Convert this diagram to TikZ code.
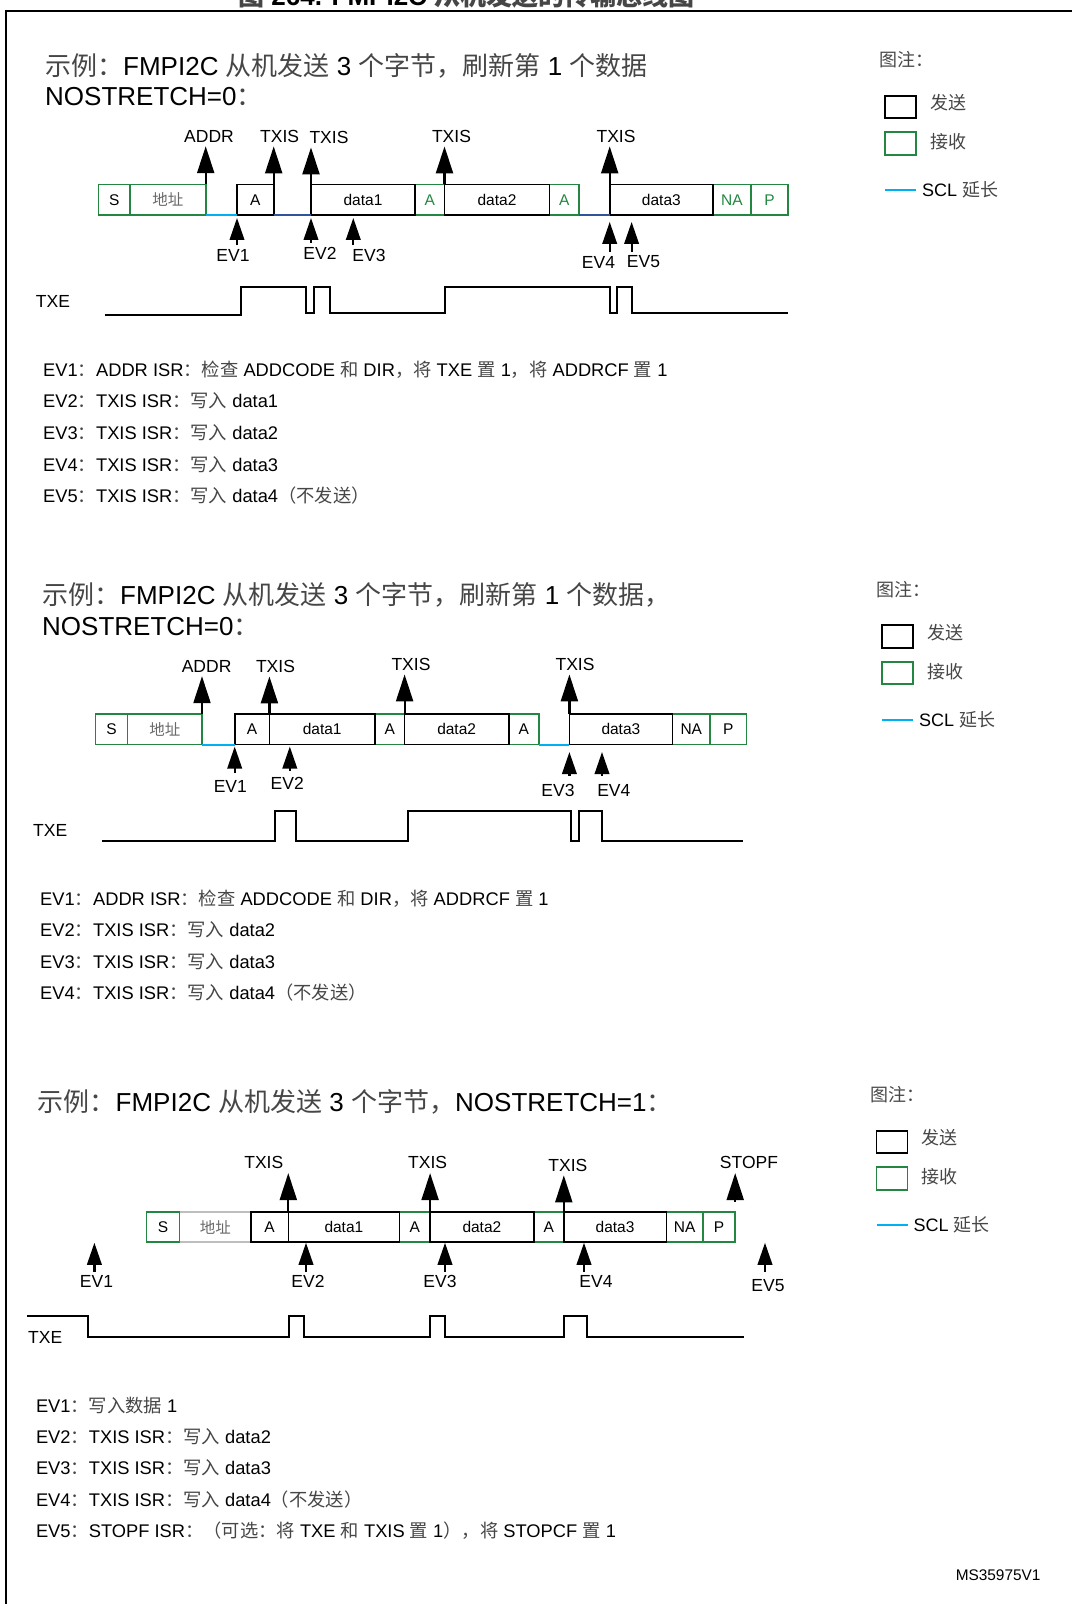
\documentclass[tikz,border=0pt]{standalone}
\usepackage{fontspec}
\setmainfont{Liberation Sans}
\newfontfamily\cjk{Noto Sans CJK SC}
\usepackage{tikz}
\usetikzlibrary{arrows.meta}
\definecolor{rxgreen}{RGB}{35,135,65}
\definecolor{sclcyan}{RGB}{0,176,240}
\definecolor{sclblue}{RGB}{47,84,158}
\definecolor{adrgray}{RGB}{105,105,105}
\definecolor{adrline}{RGB}{190,190,190}
\definecolor{zhgray}{RGB}{70,70,70}
\newcommand{\zh}[1]{{\cjk\color{zhgray}#1}}

\begin{document}
\begin{tikzpicture}[x=1pt, y=-1pt,
		box/.style={line width=1.6pt, minimum height=30.5pt, inner sep=0pt, outer sep=0pt, font=\fontsize{15.5}{18}\selectfont},
		txbox/.style={box, draw=black},
		rxbox/.style={box, draw=rxgreen},
		lbl/.style={inner sep=0pt, font=\fontsize{17.5}{20}\selectfont},
		flag/.style={line width=2.2pt, -{Triangle[length=27pt, width=17pt]}, shorten >=4pt},
		evarrow/.style={line width=2.2pt, -{Triangle[length=22pt, width=14.5pt]}, shorten >=3pt, shorten <=4.5pt},
		wave/.style={line width=2pt},
		scl/.style={draw=sclcyan, line width=2pt},
		heading/.style={anchor=west, inner sep=0pt, font=\fontsize{26}{30}\selectfont},
		desc/.style={anchor=west, inner sep=0pt, font=\fontsize{18.3}{21}\selectfont},
		legend/.style={anchor=west, inner sep=0pt, font=\fontsize{18}{21}\selectfont},
		keybox/.style={line width=1.6pt, minimum width=31pt, minimum height=22.5pt, inner sep=0pt, outer sep=0pt}]
		
		\useasboundingbox (0,0) rectangle (1072,1604);
		
		% 图题（上边被裁掉）
		\begin{scope}
			\clip (0,0) rectangle (1072,10);
			\node[anchor=base west, inner sep=0pt, font=\bfseries\fontsize{26}{30}\selectfont] (figttl) at (238,5.5) {\zh{图} 264. FMPI2C \zh{从机发送的传输总线图}};
		\end{scope}
		\draw[line width=2.5pt] (6,1604) -- (6,11) -- (1072,11); % 边框
		
		% ===== 示例 1 =====
		\node[heading] (s1h1) at (45,66) {\zh{示例：}FMPI2C \zh{从机发送} 3 \zh{个字节，刷新第} 1 \zh{个数据}};
		\node[heading] (s1h2) at (45,97) {NOSTRETCH=0\zh{：}};
		
		% 图注
		\node[legend] (lg1) at (879,60) {\zh{图注：}};
		\node[keybox, draw=black] (lg1tx) at (900.5,107) {};
		\node[legend] (lg1txt) at (930,103) {\zh{发送}};
		\node[keybox, draw=rxgreen] (lg1rx) at (900.5,143.5) {};
		\node[legend] (lg1rxt) at (930,142) {\zh{接收}};
		\node[legend] (lg1scl) at (922,190) {SCL \zh{延长}};
		\draw[scl] (lg1rx.west |- lg1scl) -- (lg1rx.east |- lg1scl);
		
		% 帧
		\node[rxbox, minimum width=31.5pt] (s1s) at (114.25,199.7) {S};
		\node[rxbox, minimum width=75.7pt, text=adrgray] (s1adr) at (167.85,199.7) {{\cjk 地址}};
		\node[rxbox, minimum width=29.5pt, text=rxgreen] (s1k1) at (429.75,199.7) {A};
		\node[rxbox, minimum width=29.5pt, text=rxgreen] (s1k2) at (564.25,199.7) {A};
		\node[rxbox, minimum width=38pt, text=rxgreen] (s1na) at (732,199.7) {NA};
		\node[rxbox, minimum width=37pt, text=rxgreen] (s1p) at (769.5,199.7) {P};
		\node[txbox, minimum width=36.7pt] (s1a1) at (255.35,199.7) {A};
		\node[txbox, minimum width=104pt] (s1d1) at (363,199.7) {data1};
		\node[txbox, minimum width=105pt] (s1d2) at (497,199.7) {data2};
		\node[txbox, minimum width=103.3pt] (s1d3) at (661.35,199.7) {data3};
		
		\draw[scl] (s1adr.south east) -- (s1a1.south west);
		\draw[scl, draw=sclblue] (s1a1.south east) -- (s1d1.south west);
		\draw[scl, draw=sclblue] (s1k2.south east) -- (s1d3.south west);
		
		% 标志
		\node[lbl] (s1addr) at (209,136) {ADDR};
		\node[lbl] (s1txis1) at (279.6,136) {TXIS};
		\node[lbl] (s1txis2) at (329,137) {TXIS};
		\node[lbl] (s1txis3) at (451.5,136) {TXIS};
		\node[lbl] (s1txis4) at (616,136) {TXIS};
		\draw[flag] (s1adr.north east) -- (s1adr.north east |- s1addr.south);
		\draw[flag] (s1a1.north east) -- (s1a1.north east |- s1txis1.south);
		\draw[flag] (s1d1.north west) -- (s1d1.north west |- s1txis2.south);
		\draw[flag] (s1d2.north west) -- (s1d2.north west |- s1txis3.south);
		\draw[flag] (s1d3.north west) -- (s1d3.north west |- s1txis4.south);
		
		% 事件
		\coordinate (s1x3) at (353.3,214.95);
		\coordinate (s1x5) at (631.6,214.95);
		\node[lbl] (s1ev1) at (233,255.7) {EV1};
		\node[lbl] (s1ev2) at (320,253.7) {EV2};
		\node[lbl] (s1ev3) at (369,255.7) {EV3};
		\node[lbl] (s1ev4) at (598.5,262) {EV4};
		\node[lbl] (s1ev5) at (643.5,262) {EV5};
		\draw[evarrow] (s1ev1.north -| s1a1.south west) -- (s1a1.south west);
		\draw[evarrow] (s1ev2.north -| s1d1.south west) -- (s1d1.south west);
		\draw[evarrow] (s1ev3.north -| s1x3) -- (s1x3);
		\draw[evarrow, shorten >=7pt, shorten <=4pt] (s1ev4.north -| s1d3.south west) -- (s1d3.south west);
		\draw[evarrow, shorten >=7pt, shorten <=4pt] (s1ev5.north -| s1x5) -- (s1x5);
		
		% TXE
		\node[lbl, anchor=west] (s1txe) at (35.7,301.7) {TXE};
		\draw[wave] (104.6,315) -- (241.3,315) -- (241.3,287.3) -- (306,287.3) -- (306,313.3) -- (313.8,313.3) -- (313.8,287.3) -- (330,287.3) -- (330,313.3) -- (445,313.3) -- (445,287.3) -- (609.7,287.3) -- (609.7,313.3) -- (617.3,313.3) -- (617.3,287.3) -- (631.6,287.3) -- (631.6,312.5) -- (788,312.5);
		
		\node[desc] (s1t1) at (43,369.3) {EV1\zh{：}ADDR ISR\zh{：检查} ADDCODE \zh{和} DIR\zh{，将} TXE \zh{置} 1\zh{，将} ADDRCF \zh{置} 1};
		\node[desc] (s1t2) at (43,401) {EV2\zh{：}TXIS ISR\zh{：写入} data1};
		\node[desc] (s1t3) at (43,432.7) {EV3\zh{：}TXIS ISR\zh{：写入} data2};
		\node[desc] (s1t4) at (43,464.4) {EV4\zh{：}TXIS ISR\zh{：写入} data3};
		\node[desc] (s1t5) at (43,495.1) {EV5\zh{：}TXIS ISR\zh{：写入} data4\zh{（不发送）}};
		
		% ===== 示例 2 =====
		\node[heading] (s2h1) at (42,595) {\zh{示例：}FMPI2C \zh{从机发送} 3 \zh{个字节，刷新第} 1 \zh{个数据，}};
		\node[heading] (s2h2) at (42,627) {NOSTRETCH=0\zh{：}};
		
		\node[legend] (lg2) at (876,589.5) {\zh{图注：}};
		\node[keybox, draw=black] (lg2tx) at (897.5,636.5) {};
		\node[legend] (lg2txt) at (927,632.5) {\zh{发送}};
		\node[keybox, draw=rxgreen] (lg2rx) at (897.5,673) {};
		\node[legend] (lg2rxt) at (927,671.5) {\zh{接收}};
		\node[legend] (lg2scl) at (919,719.5) {SCL \zh{延长}};
		\draw[scl] (lg2rx.west |- lg2scl) -- (lg2rx.east |- lg2scl);
		
		\node[rxbox, minimum width=32.2pt] (s2s) at (111.5,729.3) {S};
		\node[rxbox, minimum width=74.4pt, text=adrgray] (s2adr) at (164.8,729.3) {{\cjk 地址}};
		\node[rxbox, minimum width=29.6pt] (s2k1) at (389.8,729.3) {A};
		\node[rxbox, minimum width=30.1pt] (s2k2) at (523.75,729.3) {A};
		\node[rxbox, minimum width=37.8pt] (s2na) at (691.3,729.3) {NA};
		\node[rxbox, minimum width=36.2pt] (s2p) at (728.3,729.3) {P};
		\node[txbox, minimum width=34.7pt] (s2a1) at (252.05,729.3) {A};
		\node[txbox, minimum width=105.6pt] (s2d1) at (322.2,729.3) {data1};
		\node[txbox, minimum width=104.1pt] (s2d2) at (456.65,729.3) {data2};
		\node[txbox, minimum width=103pt] (s2d3) at (620.9,729.3) {data3};
		
		\draw[scl] (s2adr.south east) -- (s2a1.south west);
		\draw[scl] (s2k2.south east) -- (s2d3.south west);
		
		\node[lbl] (s2addr) at (206.6,666) {ADDR};
		\node[lbl] (s2txis1) at (275.5,666) {TXIS};
		\node[lbl] (s2txis2) at (411,664) {TXIS};
		\node[lbl] (s2txis3) at (575,664) {TXIS};
		\draw[flag] (s2adr.north east) -- (s2adr.north east |- s2addr.south);
		\draw[flag] (s2d1.north west) -- (s2d1.north west |- s2txis1.south);
		\draw[flag] (s2d2.north west) -- (s2d2.north west |- s2txis2.south);
		\draw[flag] (s2d3.north west) -- (s2d3.north west |- s2txis3.south);
		
		\coordinate (s2x2) at (289.8,744.55);
		\coordinate (s2x4) at (602,744.55);
		\node[lbl] (s2ev1) at (230.3,786) {EV1};
		\node[lbl] (s2ev2) at (287.2,783.8) {EV2};
		\node[lbl] (s2ev3) at (558,790) {EV3};
		\node[lbl] (s2ev4) at (613.8,790) {EV4};
		\draw[evarrow, shorten >=2pt, shorten <=6.5pt] (s2ev1.north -| s2a1.south west) -- (s2a1.south west);
		\draw[evarrow, shorten >=2pt, shorten <=6.5pt] (s2ev2.north -| s2x2) -- (s2x2);
		\draw[evarrow, shorten >=7.5pt, shorten <=8pt] (s2ev3.north -| s2d3.south west) -- (s2d3.south west);
		\draw[evarrow, shorten >=7.5pt, shorten <=8pt] (s2ev4.north -| s2x4) -- (s2x4);
		
		\node[lbl, anchor=west] (s2txe) at (33,830.7) {TXE};
		\draw[wave] (102,840.7) -- (274.5,840.7) -- (274.5,810.7) -- (296,810.7) -- (296,840.7) -- (408,840.7) -- (408,810.7) -- (571.4,810.7) -- (571.4,840.7) -- (579,840.7) -- (579,810.7) -- (602,810.7) -- (602,840.7) -- (743.4,840.7);
		
		\node[desc] (s2t1) at (40,899) {EV1\zh{：}ADDR ISR\zh{：检查} ADDCODE \zh{和} DIR\zh{，将} ADDRCF \zh{置} 1};
		\node[desc] (s2t2) at (40,930) {EV2\zh{：}TXIS ISR\zh{：写入} data2};
		\node[desc] (s2t3) at (40,961.6) {EV3\zh{：}TXIS ISR\zh{：写入} data3};
		\node[desc] (s2t4) at (40,993) {EV4\zh{：}TXIS ISR\zh{：写入} data4\zh{（不发送）}};
		
		% ===== 示例 3 =====
		\node[heading] (s3h1) at (37.5,1101.7) {\zh{示例：}FMPI2C \zh{从机发送} 3 \zh{个字节，}NOSTRETCH=1\zh{：}};
		
		\node[legend] (lg3) at (870.5,1095) {\zh{图注：}};
		\node[keybox, draw=black] (lg3tx) at (892,1142) {};
		\node[legend] (lg3txt) at (921.5,1138) {\zh{发送}};
		\node[keybox, draw=rxgreen] (lg3rx) at (892,1178.5) {};
		\node[legend] (lg3rxt) at (921.5,1177) {\zh{接收}};
		\node[legend] (lg3scl) at (913.5,1225) {SCL \zh{延长}};
		\draw[scl] (lg3rx.west |- lg3scl) -- (lg3rx.east |- lg3scl);
		
		\node[box, draw=adrline, minimum width=71.4pt, text=adrgray] (s3adr) at (215.3,1227) {{\cjk 地址}};
		\node[rxbox, minimum width=33.2pt] (s3s) at (163,1227) {S};
		\node[rxbox, minimum width=30.6pt] (s3k1) at (414.8,1227) {A};
		\node[rxbox, minimum width=30.1pt] (s3k2) at (548.75,1227) {A};
		\node[rxbox, minimum width=36.7pt] (s3na) at (684.65,1227) {NA};
		\node[rxbox, minimum width=32.2pt] (s3p) at (719.1,1227) {P};
		\node[txbox, minimum width=37.3pt] (s3a1) at (269.65,1227) {\raisebox{-3pt}{A}};
		\node[txbox, minimum width=111.2pt] (s3d1) at (343.9,1227) {data1};
		\node[txbox, minimum width=103.6pt] (s3d2) at (481.9,1227) {data2};
		\node[txbox, minimum width=102.5pt] (s3d3) at (615.05,1227) {data3};
		
		\node[lbl] (s3txis1) at (263.8,1162.7) {TXIS};
		\node[lbl] (s3txis2) at (427.6,1162.7) {TXIS};
		\node[lbl] (s3txis3) at (567.9,1165) {TXIS};
		\node[lbl] (s3stopf) at (749,1162.7) {STOPF};
		\draw[flag] (s3d1.north west) -- (s3d1.north west |- s3txis1.south);
		\draw[flag] (s3d2.north west) -- (s3d2.north west |- s3txis2.south);
		\draw[flag] (s3d3.north west) -- (s3d3.north west |- s3txis3.south);
		\draw[flag, shorten <=10pt] (s3p.north east) -- (s3p.north east |- s3stopf.south);
		
		\coordinate (s3x1) at (94.4,1242.25);
		\coordinate (s3x2) at (306,1242.25);
		\coordinate (s3x3) at (445,1242.25);
		\coordinate (s3x4) at (584,1242.25);
		\coordinate (s3x5) at (765,1242.25);
		\node[lbl] (s3ev1) at (96.5,1281) {EV1};
		\node[lbl] (s3ev2) at (308,1281) {EV2};
		\node[lbl] (s3ev3) at (440,1281) {EV3};
		\node[lbl] (s3ev4) at (596,1281) {EV4};
		\node[lbl] (s3ev5) at (768,1285.5) {EV5};
		\draw[evarrow, shorten >=0.5pt, shorten <=3pt] (s3ev1.north -| s3x1) -- (s3x1);
		\draw[evarrow, shorten >=0.5pt, shorten <=3pt] (s3ev2.north -| s3x2) -- (s3x2);
		\draw[evarrow, shorten >=0.5pt, shorten <=3pt] (s3ev3.north -| s3x3) -- (s3x3);
		\draw[evarrow, shorten >=0.5pt, shorten <=3pt] (s3ev4.north -| s3x4) -- (s3x4);
		\draw[evarrow, shorten >=0.5pt, shorten <=7.5pt] (s3ev5.north -| s3x5) -- (s3x5);
		
		\node[lbl, anchor=west] (s3txe) at (28,1337.7) {TXE};
		\draw[wave] (26.5,1315.7) -- (87.8,1315.7) -- (87.8,1337.3) -- (288.8,1337.3) -- (288.8,1315.7) -- (303.6,1315.7) -- (303.6,1337.3) -- (430,1337.3) -- (430,1315.7) -- (445,1315.7) -- (445,1337.3) -- (563.8,1337.3) -- (563.8,1315.7) -- (586.7,1315.7) -- (586.7,1337.3) -- (743.9,1337.3);
		
		\node[desc] (s3t1) at (35.8,1405.5) {EV1\zh{：写入数据} 1};
		\node[desc] (s3t2) at (35.8,1437) {EV2\zh{：}TXIS ISR\zh{：写入} data2};
		\node[desc] (s3t3) at (35.8,1468) {EV3\zh{：}TXIS ISR\zh{：写入} data3};
		\node[desc] (s3t4) at (35.8,1499.6) {EV4\zh{：}TXIS ISR\zh{：写入} data4\zh{（不发送）}};
		\node[desc] (s3t5) at (35.8,1531) {EV5\zh{：}STOPF ISR\zh{：（可选：将} TXE \zh{和} TXIS \zh{置} 1\zh{），将} STOPCF \zh{置} 1};
		
		\node[anchor=east, inner sep=0pt, font=\fontsize{15.4}{18}\selectfont] (msid) at (1040.7,1575) {MS35975V1};
		
	\end{tikzpicture}
\end{document}
